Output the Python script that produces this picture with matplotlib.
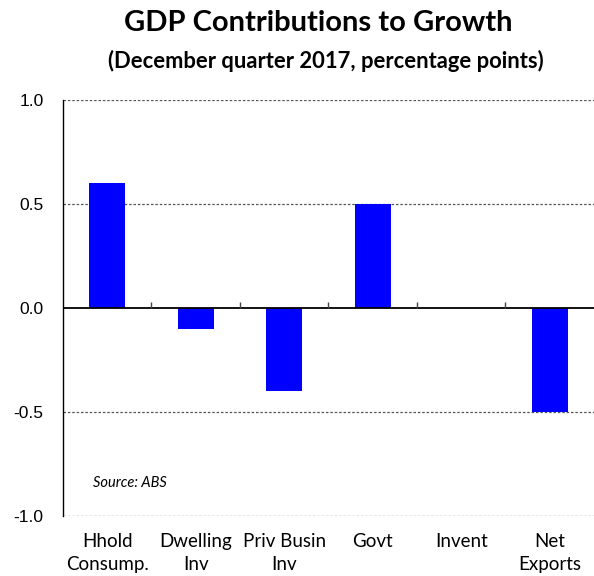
import matplotlib
matplotlib.use("Agg")
import matplotlib.pyplot as plt
import numpy as np

categories = ["Hhold\nConsump.", "Dwelling\nInv", "Priv Busin\nInv", "Govt", "Invent", "Net\nExports"]
values = [0.6, -0.1, -0.4, 0.5, 0.0, -0.5]
yticks = [-1.0, -0.5, 0.0, 0.5, 1.0]

plt.rcParams['font.family'] = ['Lato', 'DejaVu Sans']

fig = plt.figure(figsize=(5.94, 5.76), dpi=100)
ax = fig.add_axes([0.106, 0.104, 0.894, 0.722])

x = np.arange(len(categories))
ax.bar(x, values, width=0.41, color='#0000FF', zorder=3)

ax.set_xlim(-0.5, len(categories) - 0.5)
ax.set_ylim(-1.0, 1.0)
ax.set_yticks(yticks)
ax.set_yticklabels([f"{v:.1f}" for v in yticks], fontsize=12.5, family=['Liberation Sans'])
for y in yticks:
    if y != 0:
        ax.axhline(y, color='#555555', lw=0.9, ls=(0, (2, 1.5)), zorder=1)
ax.axhline(0, color='black', lw=1.3, zorder=4)
ax.vlines(x[:-1] + 0.5, 0, 0.03, color='#444444', lw=1, zorder=4)

ax.set_xticks(x)
ax.set_xticklabels(categories, fontsize=13.5, linespacing=1.45)
ax.tick_params(axis='x', length=0, pad=12)
ax.tick_params(axis='y', length=0, pad=14)

for s in ['top', 'right', 'bottom']:
    ax.spines[s].set_visible(False)
ax.spines['left'].set_linewidth(1.0)

ax.text(0.056, 0.08, "Source: ABS", transform=ax.transAxes, fontsize=10.5, style='italic', va='center')

fig.text(0.536, 0.960, "GDP Contributions to Growth", ha='center', va='center', fontsize=21, fontweight='bold')
fig.text(0.548, 0.895, "(December quarter 2017, percentage points)", ha='center', va='center', fontsize=15.8, fontweight='bold')

fig.savefig("out.png", dpi=100)
